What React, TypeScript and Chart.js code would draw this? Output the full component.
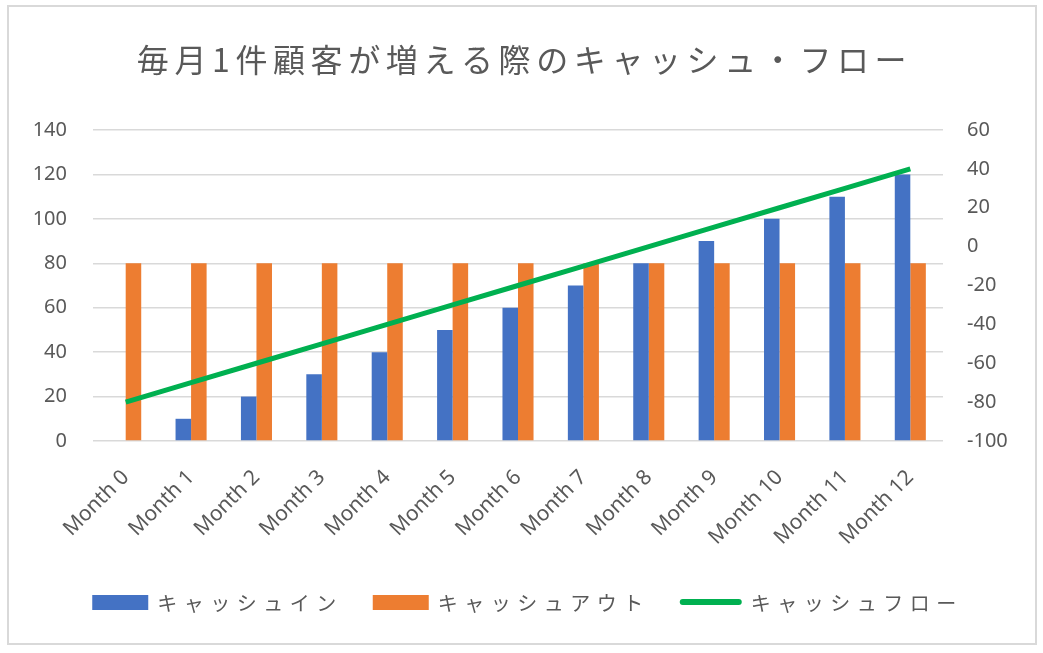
import { useEffect, useRef } from "react";
import { Chart, registerables } from "chart.js";

Chart.register(...registerables);

const TITLE = "毎月1件顧客が増える際のキャッシュ・フロー";
const MONTHS = [
  "Month 0", "Month 1", "Month 2", "Month 3", "Month 4", "Month 5", "Month 6",
  "Month 7", "Month 8", "Month 9", "Month 10", "Month 11", "Month 12",
];
const CASH_IN = [0, 10, 20, 30, 40, 50, 60, 70, 80, 90, 100, 110, 120];
const CASH_OUT = [80, 80, 80, 80, 80, 80, 80, 80, 80, 80, 80, 80, 80];
const CASH_FLOW = [-80, -70, -60, -50, -40, -30, -20, -10, 0, 10, 20, 30, 40];
const SERIES_NAMES = ["キャッシュイン", "キャッシュアウト", "キャッシュフロー"];
const LEFT_AXIS = { min: 0, max: 140, step: 20 };
const RIGHT_AXIS = { min: -100, max: 60, step: 20 };

const BLUE = "#4472C4";
const ORANGE = "#ED7D31";
const GREEN = "#00B050";
const TEXT = "#595959";
const GRID = "#d9d9d9";
const JP_FONT = '"Noto Sans CJK JP", "Noto Sans", sans-serif';
const LATIN_FONT = '"Noto Sans", "Open Sans", sans-serif';

const headerLegendPlugin = {
  id: "headerLegend",
  afterDraw(chart: any) {
    const ctx = chart.ctx as CanvasRenderingContext2D;
    ctx.save();
    // Title
    ctx.fillStyle = TEXT;
    ctx.font = `32px ${JP_FONT}`;
    (ctx as any).letterSpacing = "5.6px";
    ctx.textAlign = "center";
    ctx.textBaseline = "middle";
    ctx.fillText(TITLE, chart.width / 2 + 3, 60);

    // Legend
    ctx.font = `20px ${JP_FONT}`;
    (ctx as any).letterSpacing = "6.5px";
    ctx.textAlign = "left";
    const swatchW = 56;
    const lineW = 62;
    const gapText = 9;
    const gapItem = 30;
    const items = chart.data.datasets.map((ds: any) => {
      const isLine = ds.type === "line";
      const sw = isLine ? lineW : swatchW;
      const tw = ctx.measureText(ds.label).width;
      return { ds, isLine, sw, tw, total: sw + gapText + tw };
    });
    const totalW =
      items.reduce((a: number, it: any) => a + it.total, 0) + gapItem * (items.length - 1);
    let x = chart.width / 2 + 6 - totalW / 2;
    const y = 602;
    items.forEach((it: any) => {
      if (it.isLine) {
        ctx.strokeStyle = it.ds.borderColor;
        ctx.lineWidth = 6;
        ctx.lineCap = "round";
        ctx.beginPath();
        ctx.moveTo(x + 3, y);
        ctx.lineTo(x + it.sw - 3, y);
        ctx.stroke();
      } else {
        ctx.fillStyle = it.ds.backgroundColor;
        ctx.fillRect(x, y - 7, it.sw, 15);
      }
      ctx.fillStyle = TEXT;
      ctx.fillText(it.ds.label, x + it.sw + gapText, y + 1);
      x += it.total + gapItem;
    });
    ctx.restore();
  },
};

export default function App() {
  const canvasRef = useRef<HTMLCanvasElement | null>(null);

  useEffect(() => {
    if (!canvasRef.current) return;
    const chart = new Chart(canvasRef.current, {
      type: "bar",
      data: {
        labels: MONTHS,
        datasets: [
          {
            type: "bar",
            label: SERIES_NAMES[0],
            data: CASH_IN,
            backgroundColor: BLUE,
            yAxisID: "y",
            order: 2,
            categoryPercentage: 0.475,
            barPercentage: 1,
          },
          {
            type: "bar",
            label: SERIES_NAMES[1],
            data: CASH_OUT,
            backgroundColor: ORANGE,
            yAxisID: "y",
            order: 2,
            categoryPercentage: 0.475,
            barPercentage: 1,
          },
          {
            type: "line",
            label: SERIES_NAMES[2],
            data: CASH_FLOW,
            borderColor: GREEN,
            backgroundColor: GREEN,
            borderWidth: 5,
            pointRadius: 0,
            tension: 0,
            yAxisID: "y1",
            order: 1,
          } as any,
        ],
      },
      options: {
        animation: false,
        responsive: false,
        devicePixelRatio: 1,
        layout: { padding: { top: 130, bottom: 92, left: 0, right: 0 } },
        plugins: {
          legend: { display: false },
          title: { display: false },
          tooltip: { enabled: false },
        },
        scales: {
          x: {
            grid: { display: false },
            border: { display: false },
            ticks: {
              color: TEXT,
              font: { family: LATIN_FONT, size: 21 },
              minRotation: 45,
              maxRotation: 45,
              autoSkip: false,
              padding: 16,
            },
            afterFit(s: any) {
              s.height = 120;
            },
          },
          y: {
            position: "left",
            min: LEFT_AXIS.min,
            max: LEFT_AXIS.max,
            grid: { color: GRID, lineWidth: 1.5, drawTicks: false },
            border: { display: false },
            ticks: {
              stepSize: LEFT_AXIS.step,
              color: TEXT,
              font: { family: LATIN_FONT, size: 20 },
              padding: 26,
            },
            afterFit(s: any) {
              s.width = 93;
            },
          },
          y1: {
            position: "right",
            min: RIGHT_AXIS.min,
            max: RIGHT_AXIS.max,
            grid: { display: false, drawTicks: false },
            border: { display: false },
            ticks: {
              stepSize: RIGHT_AXIS.step,
              color: TEXT,
              font: { family: LATIN_FONT, size: 20 },
              padding: 24,
            },
            afterFit(s: any) {
              s.width = 100;
            },
          },
        },
      },
      plugins: [headerLegendPlugin],
    });
    return () => chart.destroy();
  }, []);

  return (
    <div
      style={{
        position: "fixed",
        left: 0,
        top: 0,
        width: 1043,
        height: 653,
        background: "#ffffff",
      }}
    >
      <div
        style={{
          position: "absolute",
          left: 7,
          top: 5,
          width: 1030,
          height: 640,
          border: `2px solid ${GRID}`,
          boxSizing: "border-box",
        }}
      />
      <canvas
        ref={canvasRef}
        width={1043}
        height={653}
        style={{ position: "absolute", left: 0, top: 0 }}
      />
    </div>
  );
}
